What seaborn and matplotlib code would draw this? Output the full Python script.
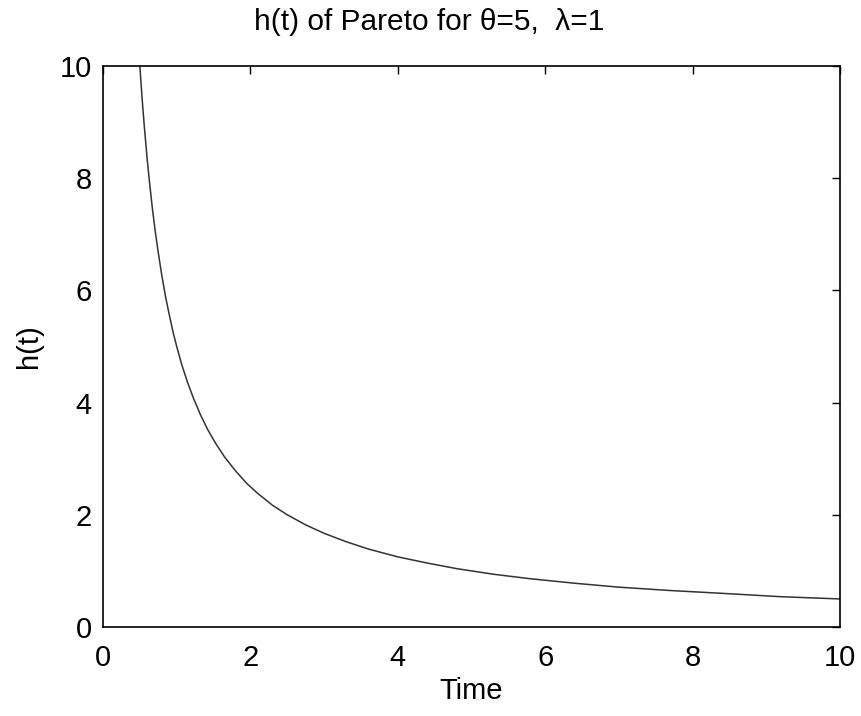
import matplotlib
matplotlib.use('Agg')
import matplotlib.pyplot as plt
import seaborn as sns
import pandas as pd

# values
time_vals = [0.5, 0.53, 0.56, 0.6, 0.63, 0.67, 0.71, 0.75, 0.8, 0.85, 0.9, 0.95,
             1.0, 1.07, 1.15, 1.23, 1.32, 1.42, 1.53, 1.65, 1.8, 1.95, 2.1, 2.3,
             2.5, 2.75, 3.0, 3.3, 3.6, 4.0, 4.4, 4.8, 5.3, 5.8, 6.4, 7.0, 7.7,
             8.4, 9.2, 10.0]
hazard_vals = [10.0, 9.43, 8.93, 8.33, 7.94, 7.46, 7.04, 6.67, 6.25, 5.88, 5.56,
               5.26, 5.0, 4.67, 4.35, 4.07, 3.79, 3.52, 3.27, 3.03, 2.78, 2.56,
               2.38, 2.17, 2.0, 1.82, 1.67, 1.52, 1.39, 1.25, 1.14, 1.04, 0.94,
               0.86, 0.78, 0.71, 0.65, 0.60, 0.54, 0.5]

df = pd.DataFrame({'Time': time_vals, 'h(t)': hazard_vals})

sns.set_theme(style="white")
plt.rcParams['font.family'] = ['Liberation Sans', 'DejaVu Sans']

fig = plt.figure(figsize=(8.62, 7.16), dpi=100)
ax = fig.add_axes([0.1195, 0.1243, 0.855, 0.7835])
sns.lineplot(data=df, x='Time', y='h(t)', ax=ax, color='#333333', linewidth=1.1)

ax.set_xlim(0, 10)
ax.set_ylim(0, 10)
ax.set_xticks([0, 2, 4, 6, 8, 10])
ax.set_yticks([0, 2, 4, 6, 8, 10])
ax.tick_params(direction='in', length=6, width=1, labelsize=21, colors='black',
               top=True, right=True, pad=8)
ax.tick_params(axis='x', pad=12)
for s in ax.spines.values():
    s.set_color('black')
    s.set_linewidth(1.2)
ax.set_xlabel('Time', fontsize=21, color='black', labelpad=4)
ax.set_ylabel('h(t)', fontsize=21, color='black', labelpad=12)
fig.text(0.498, 0.969, 'h(t) of Pareto for θ=5,  λ=1', fontsize=21.5,
         color='black', ha='center', va='center')

fig.savefig('out.png', dpi=100)
